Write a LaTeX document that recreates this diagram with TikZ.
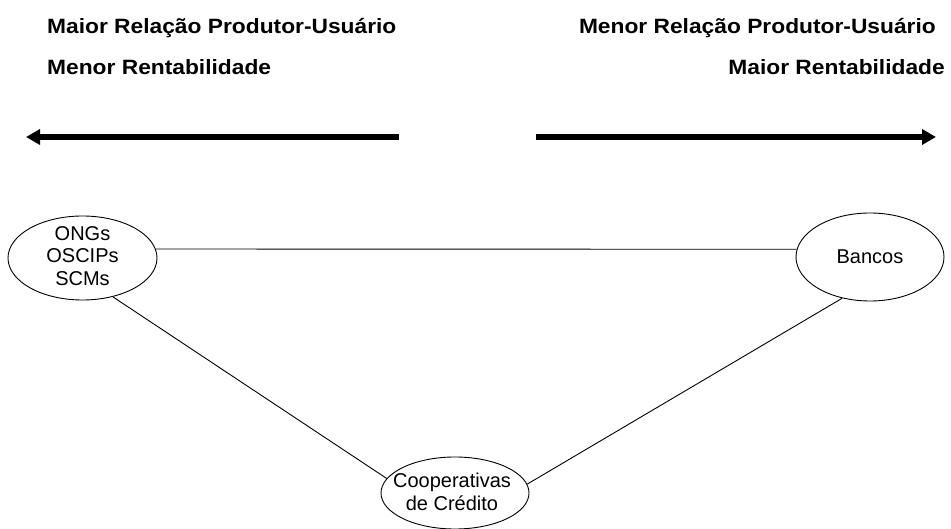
\documentclass[tikz,border=0pt]{standalone}
\usepackage{fontspec}
\setmainfont{Liberation Sans}
\newfontfamily\headfont{Liberation Sans}[FakeStretch=1.1]
\usetikzlibrary{shapes.geometric,arrows.meta}
\tikzset{
  headtxt/.style={inner sep=0pt, font=\headfont\fontsize{20.7}{24}\selectfont\bfseries},
  oval/.style={draw, ellipse, inner sep=0pt, line width=0.9pt},
  ovaltxt/.style={align=center, inner sep=0pt, font=\fontsize{20}{22.8}\selectfont},
  conn/.style={line width=0.9pt},
  bigarrow/.style={line width=5.5pt, -{Triangle[length=14pt,width=15pt]}}
}
\begin{document}
\begin{tikzpicture}[x=1pt,y=-1pt]
\useasboundingbox (0,0) rectangle (951,529);
% headers
\node[headtxt, anchor=base west] (h1) at (47,34) {Maior Relação Produtor-Usuário};
\node[headtxt, anchor=base west] (h2) at (47,74.5) {Menor Rentabilidade};
\node[headtxt, anchor=base east] (h3) at (936,34) {Menor Relação Produtor-Usuário};
\node[headtxt, anchor=base east] (h4) at (945,74.5) {Maior Rentabilidade};
% arrows
\coordinate (la) at (399,137);
\coordinate (lb) at (26,137);
\coordinate (ra) at (536,137);
\coordinate (rb) at (936,137);
\draw[bigarrow] (la) -- (lb);
\draw[bigarrow] (ra) -- (rb);
% ellipses
\node[oval, minimum width=149pt, minimum height=84pt] (ongs) at (82.5,258) {};
\node[ovaltxt] (ongst) at (82.5,256) {ONGs\\OSCIPs\\SCMs};
\node[oval, minimum width=148pt, minimum height=88pt] (bancos) at (870,257) {};
\node[ovaltxt] (bancost) at (870,257) {Bancos};
\node[oval, minimum width=148pt, minimum height=72pt] (coop) at (455,493) {};
\node[ovaltxt] (coopt) at (452,492) {Cooperativas\\de Crédito};
% connectors
\draw[conn] (ongs.7) -- (bancos.174);
\draw[conn] (ongs.-52) -- (coop.168);
\draw[conn] (coop.7) -- (bancos.-124);
\end{tikzpicture}
\end{document}
